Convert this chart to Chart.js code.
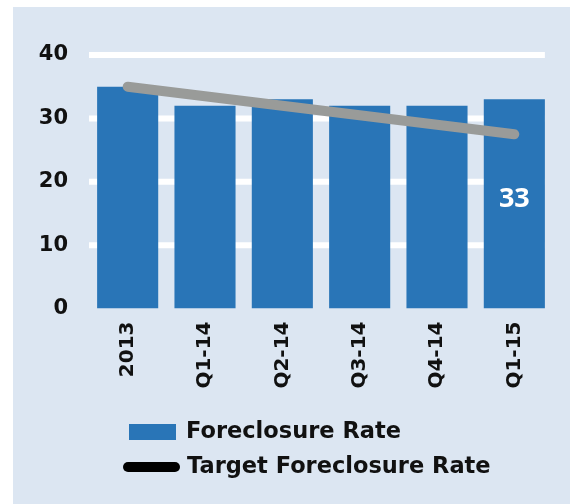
<!DOCTYPE html>
<html>
<head>
<meta charset="utf-8">
<script src="https://cdn.jsdelivr.net/npm/chart.js@4.4.1/dist/chart.umd.min.js"></script>
<style>
  html, body { margin: 0; padding: 0; background: #ffffff; }
  #wrap { position: relative; width: 574px; height: 504px; }
</style>
</head>
<body>
<div id="wrap"><canvas id="c" width="574" height="504"></canvas></div>
<script>
const categories = ['2013', 'Q1-14', 'Q2-14', 'Q3-14', 'Q4-14', 'Q1-15'];
const foreclosureRate = [35, 32, 33, 32, 32, 33];
const targetRate = [35, 33.5, 32, 30.5, 29, 27.5];
const yTicks = [0, 10, 20, 30, 40];
const labelledBars = [5];
const seriesNames = ['Foreclosure Rate', 'Target Foreclosure Rate'];

const FONT = '"DejaVu Sans", sans-serif';

const panelPlugin = {
  id: 'panel',
  beforeDraw(chart) {
    const ctx = chart.ctx;
    ctx.save();
    ctx.fillStyle = '#ffffff';
    ctx.fillRect(0, 0, chart.width, chart.height);
    ctx.fillStyle = '#dce6f2';
    ctx.fillRect(13, 7, 557, 497);
    ctx.restore();
  }
};

// white gridlines drawn from the y scale, ending at the right edge of the last bar
const gridPlugin = {
  id: 'whiteGrid',
  beforeDatasetsDraw(chart) {
    const ctx = chart.ctx;
    const y = chart.scales.y;
    const bars = chart.getDatasetMeta(1).data;
    const last = bars[bars.length - 1];
    const x0 = chart.chartArea.left;
    const x1 = last.x + last.width / 2;
    ctx.save();
    ctx.strokeStyle = '#ffffff';
    ctx.lineWidth = 6;
    yTicks.forEach(v => {
      if (v === 0) return;
      const py = y.getPixelForValue(v);
      ctx.beginPath();
      ctx.moveTo(x0, py);
      ctx.lineTo(x1, py);
      ctx.stroke();
    });
    ctx.restore();
  }
};

const barLabelPlugin = {
  id: 'barLabel',
  afterDatasetsDraw(chart) {
    const ctx = chart.ctx;
    const meta = chart.getDatasetMeta(1);
    ctx.save();
    ctx.fillStyle = '#ffffff';
    ctx.font = 'bold 27px "Open Sans", sans-serif';
    ctx.textAlign = 'center';
    ctx.textBaseline = 'middle';
    labelledBars.forEach(i => {
      const el = meta.data[i];
      const v = foreclosureRate[i];
      ctx.fillText(String(v), el.x, (el.y + el.base) / 2 - 5);
    });
    ctx.restore();
  }
};

const legendPlugin = {
  id: 'customLegend',
  afterDraw(chart) {
    const ctx = chart.ctx;
    ctx.save();
    ctx.font = 'bold 22.5px ' + FONT;
    ctx.textBaseline = 'middle';
    ctx.textAlign = 'left';
    // bar entry
    ctx.fillStyle = '#2975b7';
    ctx.fillRect(129, 424, 47, 16);
    ctx.fillStyle = '#111111';
    ctx.fillText(seriesNames[0], 186, 432);
    // line entry
    ctx.strokeStyle = '#000000';
    ctx.lineWidth = 10;
    ctx.lineCap = 'round';
    ctx.beginPath();
    ctx.moveTo(128, 467);
    ctx.lineTo(175, 467);
    ctx.stroke();
    ctx.fillStyle = '#111111';
    ctx.fillText(seriesNames[1], 187, 467);
    ctx.restore();
  }
};

new Chart(document.getElementById('c'), {
  data: {
    labels: categories,
    datasets: [
      {
        type: 'line',
        label: seriesNames[1],
        data: targetRate,
        borderColor: '#999b99',
        borderWidth: 10,
        borderCapStyle: 'round',
        pointRadius: 0,
        tension: 0,
        order: 0
      },
      {
        type: 'bar',
        label: seriesNames[0],
        data: foreclosureRate,
        backgroundColor: '#2975b7',
        barPercentage: 0.79,
        categoryPercentage: 1.0,
        order: 1
      }
    ]
  },
  options: {
    responsive: false,
    animation: false,
    layout: { padding: { top: 55, right: 21, left: 1, bottom: 0 } },
    plugins: {
      legend: { display: false },
      tooltip: { enabled: false }
    },
    scales: {
      x: {
        grid: { display: false },
        border: { display: false },
        ticks: {
          color: '#111111',
          font: { family: FONT, weight: 'bold', size: 20 },
          maxRotation: 90,
          minRotation: 90,
          padding: 5
        },
        afterFit(scale) { scale.height = 195.5; }
      },
      y: {
        min: 0,
        max: 40,
        afterBuildTicks(scale) { scale.ticks = yTicks.map(v => ({ value: v })); },
        grid: { display: false, drawTicks: false },
        border: { display: false },
        ticks: {
          color: '#111111',
          font: { family: FONT, weight: 'bold', size: 21 },
          padding: 21
        },
        afterFit(scale) { scale.width = 88; }
      }
    }
  },
  plugins: [panelPlugin, gridPlugin, barLabelPlugin, legendPlugin]
});
</script>
</body>
</html>
